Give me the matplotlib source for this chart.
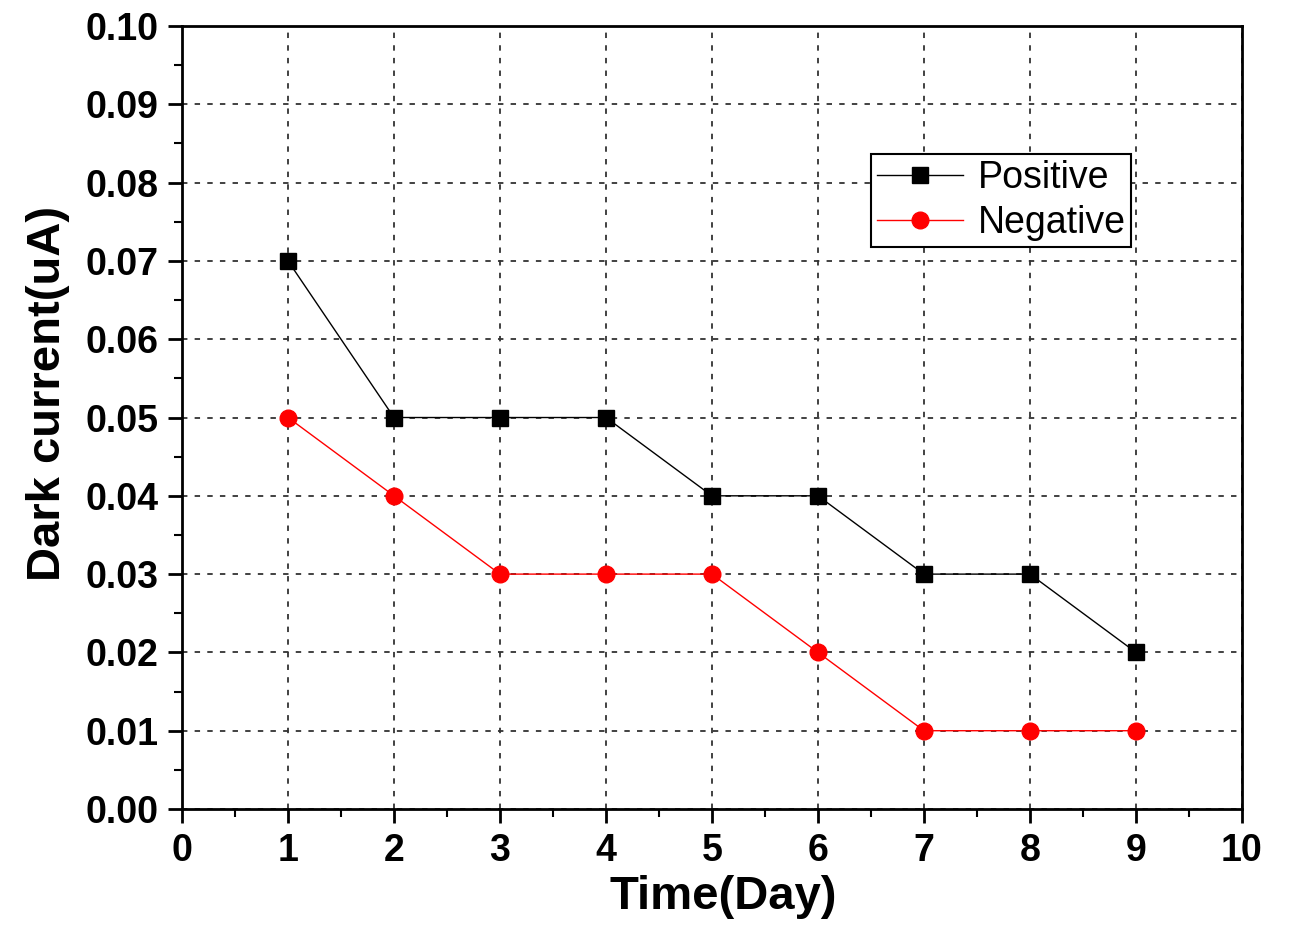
import matplotlib
matplotlib.use("Agg")
import matplotlib.pyplot as plt
from matplotlib.ticker import MultipleLocator, FormatStrFormatter

days = [1, 2, 3, 4, 5, 6, 7, 8, 9]
positive = [0.07, 0.05, 0.05, 0.05, 0.04, 0.04, 0.03, 0.03, 0.02]
negative = [0.05, 0.04, 0.03, 0.03, 0.03, 0.02, 0.01, 0.01, 0.01]

plt.rcParams['font.family'] = ['Liberation Sans', 'DejaVu Sans']

fig = plt.figure(figsize=(12.89, 9.33), dpi=100)
ax = fig.add_axes([0.1412, 0.1329, 0.8223, 0.8392])

ax.plot(days, positive, color='black', lw=1.0, marker='s', markersize=12, label='Positive')
ax.plot(days, negative, color='red', lw=1.0, marker='o', markersize=12, label='Negative')

ax.set_xlim(0, 10)
ax.set_ylim(0, 0.10)
ax.xaxis.set_major_locator(MultipleLocator(1))
ax.xaxis.set_minor_locator(MultipleLocator(0.5))
ax.yaxis.set_major_locator(MultipleLocator(0.01))
ax.yaxis.set_minor_locator(MultipleLocator(0.005))
ax.yaxis.set_major_formatter(FormatStrFormatter('%.2f'))

ax.tick_params(which='major', direction='out', length=10, width=2, labelsize=27, pad=7)
ax.tick_params(which='minor', direction='out', length=6, width=1.5)
ax.tick_params(top=False, right=False)
for lab in ax.get_xticklabels() + ax.get_yticklabels():
    lab.set_fontweight('bold')
for s in ax.spines.values():
    s.set_linewidth(2)

ax.grid(True, which='major', linestyle=(0, (3, 4)), color='#333333', lw=1.3)
ax.set_axisbelow(True)

ax.set_xlabel('Time(Day)', fontsize=34, fontweight='bold')
ax.set_ylabel('Dark current(uA)', fontsize=34, fontweight='bold')
ax.xaxis.set_label_coords(0.511, -0.084)
ax.yaxis.set_label_coords(-0.106, 0.531)

leg = ax.legend(loc='upper left', bbox_to_anchor=(0.65, 0.836), fontsize=27,
                frameon=True, fancybox=False, edgecolor='black', handlelength=2.3,
                borderpad=0.15, labelspacing=0.25, handletextpad=0.4, borderaxespad=0)
leg.get_frame().set_linewidth(1.5)
leg.get_frame().set_alpha(1)

fig.savefig('out.png', dpi=100)
